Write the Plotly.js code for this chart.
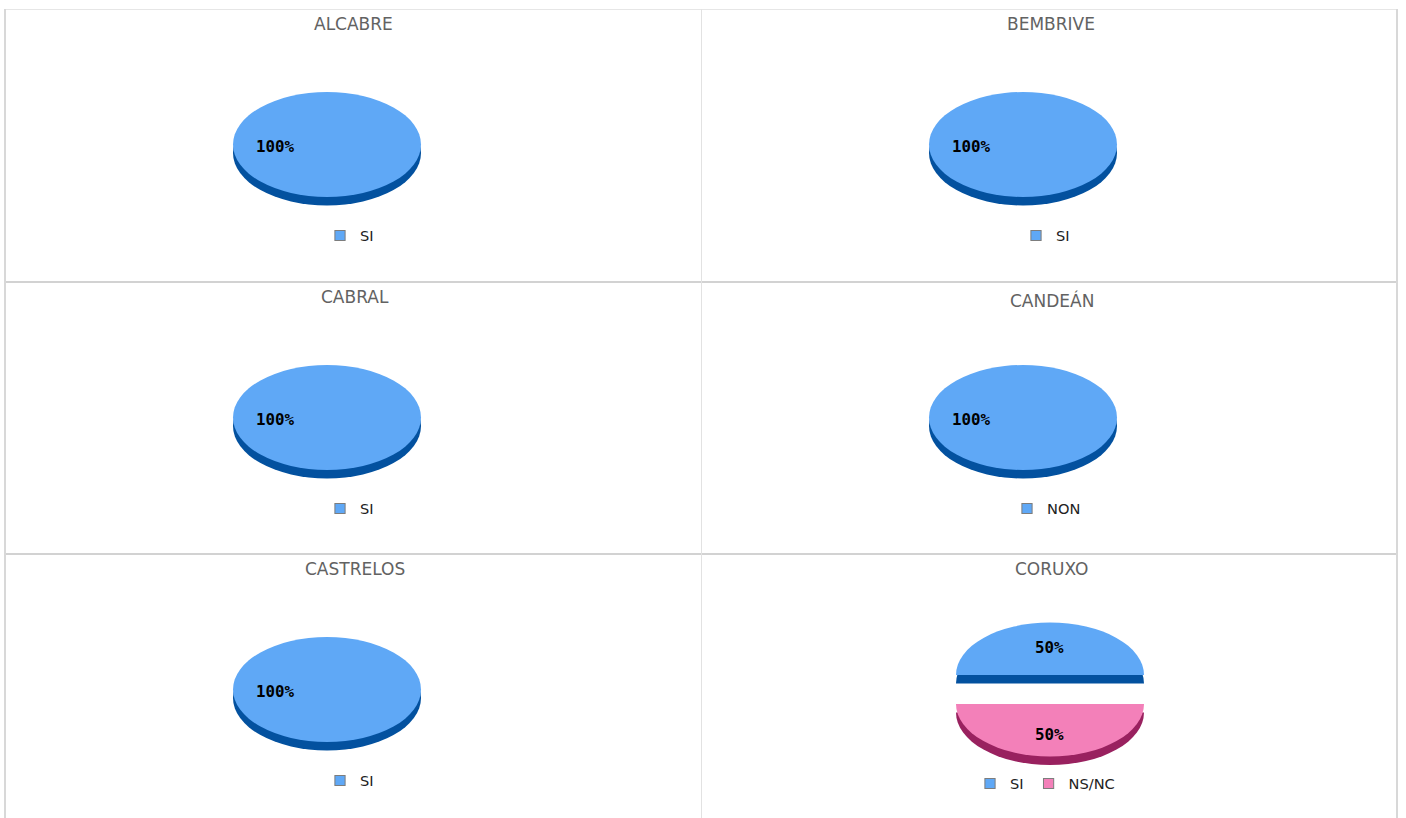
<!DOCTYPE html>
<html>
<head>
<meta charset="utf-8">
<script src="https://cdn.plot.ly/plotly-3.0.1.min.js"></script>
<style>
html,body{margin:0;padding:0;background:#fff;overflow:hidden}
#page{position:relative;width:1406px;height:818px;overflow:hidden}
.cell,.rule{position:absolute}
</style>
</head>
<body>
<div id="page"></div>
<script>
// ---- data ----
const titles = ['ALCABRE', 'BEMBRIVE', 'CABRAL', 'CANDEÁN', 'CASTRELOS', 'CORUXO'];
const labels = [['SI'], ['SI'], ['SI'], ['NON'], ['SI'], ['SI', 'NS/NC']];
const values = [[100], [100], [100], [100], [100], [50, 50]];
const colors = ['#5fa8f6', '#f380b9'];
const sideColors = ['#03519f', '#99215f'];

// ---- layout constants (pixels on the page) ----
const cellX = [6, 702, 6, 702, 6, 702], cellW = 695;
const cellY = [10, 10, 283, 283, 555, 555], cellH = [271, 271, 270, 270, 263, 263];
const centerX = [327, 1023, 327, 1023, 327, 1050];
const centerY = [144.5, 144.5, 417.5, 417.5, 689.5, 689.5];
const titleX = [354, 1051, 354.5, 1051.5, 355, 1051];
const titleY = [24, 24, 297, 301, 569, 569];
const legendX = [320, 1016, 320, 1007, 320, 970];
const legendY = [235.5, 235.5, 508.5, 508.5, 780.5, 783.5];
const labelPos = [[[275, 146]], [[971, 146]], [[275, 419]], [[971, 419]], [[275, 691]], [[1049, 647], [1049, 734]]];
const pulls = [0, 0, 0, 0, 0, 0.277];
const R = 94, squash = 0.558, depth = 8.5;

const page = document.getElementById('page');
const rule = (x, y, w, h, color) => {
  const d = document.createElement('div');
  d.className = 'rule';
  d.style.cssText = `left:${x}px;top:${y}px;width:${w}px;height:${h}px;background:${color}`;
  page.appendChild(d);
};
rule(5, 9, 1393, 1, '#e6e6e6');
rule(5, 281, 1393, 2, '#d2d2d2');
rule(5, 553, 1393, 2, '#d2d2d2');
rule(4, 9, 2, 809, '#d8d8d8');
rule(701, 9, 1, 809, '#e2e2e2');
rule(1396, 9, 2, 809, '#d8d8d8');

titles.forEach((title, i) => {
  const div = document.createElement('div');
  div.className = 'cell';
  const x0 = cellX[i], y0 = cellY[i], w = cellW, h = cellH[i];
  div.style.cssText = `left:${x0}px;top:${y0}px;width:${w}px;height:${h}px`;
  page.appendChild(div);
  const px = x => (x - x0) / w, py = y => 1 - (y - y0) / h;

  const r = R * (1 + pulls[i]);
  const domain = {x: [px(centerX[i] - r), px(centerX[i] + r)], y: [py(centerY[i] + r), py(centerY[i] - r)]};
  const common = {type: 'pie', labels: labels[i], values: values[i], domain, sort: false, direction: 'clockwise',
    rotation: 270, pull: pulls[i], textinfo: 'none', hoverinfo: 'skip'};
  const traces = [
    Object.assign({}, common, {showlegend: false, marker: {colors: sideColors, line: {width: 0}}}),
    Object.assign({}, common, {showlegend: true, marker: {colors, line: {width: 0}}})
  ];

  const annotations = [{text: title, x: px(titleX[i]), y: py(titleY[i]), xref: 'paper', yref: 'paper', showarrow: false,
    font: {family: 'DejaVu Sans', size: 17, color: '#626262'}, xanchor: 'center', yanchor: 'middle'}];
  const total = values[i].reduce((a, b) => a + b, 0);
  values[i].forEach((v, j) => annotations.push({text: '<b>' + Math.round(v / total * 100) + '%</b>',
    x: px(labelPos[i][j][0]), y: py(labelPos[i][j][1]), xref: 'paper', yref: 'paper', showarrow: false,
    font: {family: 'DejaVu Sans Mono', size: 15.8, color: '#000'}, xanchor: 'center', yanchor: 'middle'}));

  const legend = {orientation: 'h', x: px(legendX[i]), xanchor: 'left', y: py(legendY[i]), yanchor: 'middle',
    font: {family: 'DejaVu Sans', size: 14.6, color: '#222'}, bgcolor: 'rgba(0,0,0,0)',
    itemclick: false, itemdoubleclick: false};

  const layout = {
    width: w, height: h, margin: {l: 0, r: 0, t: 0, b: 0},
    paper_bgcolor: 'rgba(0,0,0,0)', showlegend: true, hovermode: false,
    font: {family: 'DejaVu Sans'}, annotations, legend
  };

  Plotly.newPlot(div, traces, layout, {displayModeBar: false}).then(gd => {
    // tilt the pie into an ellipse, and drop its darker copy to form the rim
    const cy = centerY[i] - y0;
    gd.querySelectorAll('.pielayer .trace').forEach((g, k) => {
      const dy = k === 0 ? depth : 0;
      g.setAttribute('transform', `translate(0,${cy + dy}) scale(1,${squash}) translate(0,${-cy})`);
    });
    gd.querySelectorAll('.legendpoints path.legendpie').forEach(p => {
      p.setAttribute('transform', (p.getAttribute('transform') || '') + ' scale(0.85)');
      p.style.stroke = '#7d7d7d';
      p.style.strokeWidth = '1.2px';
      p.style.strokeOpacity = 1;
    });
  });
});
</script>
</body>
</html>
